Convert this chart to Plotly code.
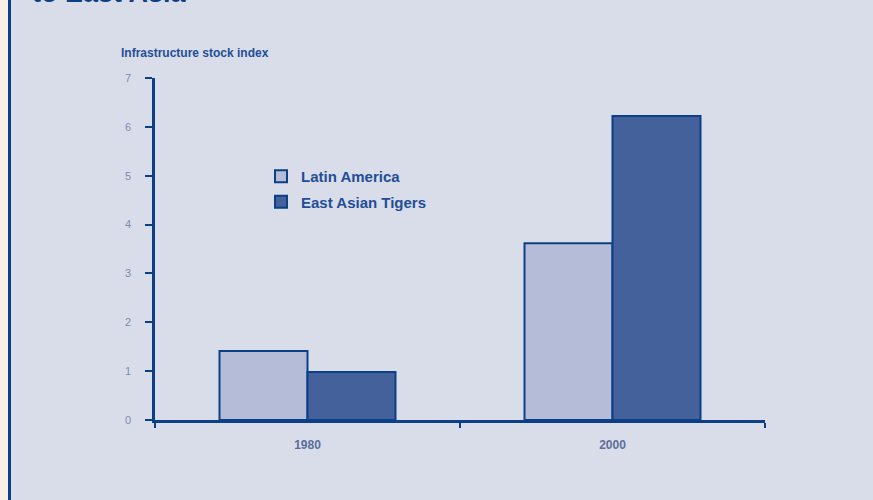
import plotly.graph_objects as go

categories = ["1980", "2000"]
latin_america = [1.41, 3.62]
east_asian_tigers = [0.98, 6.22]
y_ticks = [0, 1, 2, 3, 4, 5, 6, 7]

DARK = "#0b3f86"
BG = "#d9dde9"
FONT = "Arial, Liberation Sans, sans-serif"

L, R, T, B = 155, 108, 78, 80
W, H = 873, 500
PW, PH = W - L - R, H - T - B

def px_x(p):
    return (p - L) / PW

def px_y(p):
    return 1 - (p - T) / PH

fig = go.Figure()
fig.add_trace(go.Bar(
    x=categories, y=latin_america, name="Latin America",
    marker=dict(color="#b5bcd8", line=dict(color=DARK, width=2)),
    legendgroup="a",
))
fig.add_trace(go.Bar(
    x=categories, y=east_asian_tigers, name="East Asian Tigers",
    marker=dict(color="#44619b", line=dict(color=DARK, width=2)),
    legendgroup="b",
))

fig.update_layout(
    width=W, height=H,
    margin=dict(l=L, r=R, t=T, b=B),
    paper_bgcolor=BG, plot_bgcolor=BG,
    barmode="group", bargap=0.423, bargroupgap=0,
    font=dict(family=FONT, color=DARK),
    showlegend=True,
    legend=dict(
        x=px_x(261), y=px_y(160), xanchor="left", yanchor="top",
        bgcolor="rgba(0,0,0,0)",
        font=dict(family=FONT, size=15, color="#1f4e96", weight="bold"),
        traceorder="grouped", tracegroupgap=3, itemwidth=30,
    ),
    xaxis=dict(
        showgrid=False, showline=True, linecolor=DARK, linewidth=2.5,
        ticks="outside", ticklen=5, tickwidth=2, tickcolor=DARK,
        tickson="boundaries", ticklabelstandoff=12,
        tickfont=dict(family=FONT, size=12, color="#5b6f9c", weight="bold"),
        zeroline=False,
    ),
    yaxis=dict(
        range=[0, 7], tickvals=y_ticks, showgrid=False,
        showline=True, linecolor=DARK, linewidth=2.5,
        ticks="outside", ticklen=7, tickwidth=2, tickcolor=DARK,
        ticklabelstandoff=12,
        tickfont=dict(family=FONT, size=11, color="#7a8cb3"),
        zeroline=False,
    ),
    shapes=[
        dict(type="rect", xref="paper", yref="paper",
             x0=px_x(0), x1=px_x(8), y0=px_y(H), y1=px_y(0),
             fillcolor="#f8f0e6", line=dict(width=0), layer="below"),
        dict(type="line", xref="paper", yref="paper",
             x0=px_x(9.5), x1=px_x(9.5), y0=px_y(H), y1=px_y(0),
             line=dict(color=DARK, width=3)),
    ],
    annotations=[
        dict(text="to East Asia", xref="paper", yref="paper",
             x=px_x(30), y=px_y(10), xanchor="left", yanchor="bottom",
             showarrow=False,
             font=dict(family=FONT, size=27, color=DARK, weight="bold")),
        dict(text="Infrastructure stock index", xref="paper", yref="paper",
             x=px_x(119), y=px_y(53), xanchor="left", yanchor="middle",
             showarrow=False,
             font=dict(family=FONT, size=12, color="#1f4e96", weight="bold")),
    ],
)

fig.write_html("out.html")
